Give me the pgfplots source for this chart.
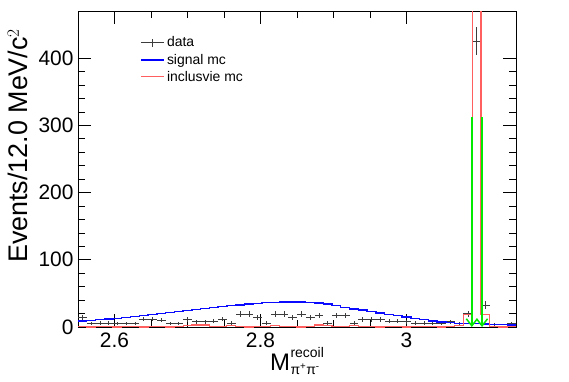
\documentclass[border=0pt]{standalone}
\usepackage{fontspec}
\setmainfont{Liberation Sans}
\usepackage{pgfplots}
\usepackage{pgfplotstable}
\pgfplotsset{compat=1.18}
\usetikzlibrary{arrows.meta}
\definecolor{sigblue}{RGB}{10,10,255}
\definecolor{incred}{RGB}{255,95,95}
\definecolor{arrgreen}{RGB}{0,235,0}
\definecolor{datgray}{RGB}{60,60,60}

\pgfplotstableread{
x y e
2.556 14 3.74
2.568 5 2.24
2.580 6 2.45
2.592 6 2.45
2.604 5 2.24
2.616 5 2.24
2.628 5 2.24
2.640 12 3.46
2.652 12 3.46
2.664 10 3.16
2.676 5 2.24
2.688 5 2.24
2.700 11 3.32
2.712 8 2.83
2.724 8 2.83
2.736 9 3.00
2.748 12 3.46
2.760 6 2.45
2.772 19 4.36
2.784 19 4.36
2.796 14 3.74
2.808 6 2.45
2.820 19 4.36
2.832 19 4.36
2.844 14 3.74
2.856 19 4.36
2.868 14 3.74
2.880 17 4.12
2.892 6 2.45
2.904 17 4.12
2.916 17 4.12
2.928 6 2.45
2.940 11 3.32
2.952 11 3.32
2.964 11 3.32
2.976 9 3.00
2.988 9 3.00
3.000 8 2.83
3.012 6 2.45
3.024 6 2.45
3.036 5 2.24
3.048 5 2.24
3.060 8 2.83
3.072 5 2.24
3.084 20 4.47
3.096 425 20.6
3.108 33 5.74
3.120 4 2.00
3.132 1 1.00
3.144 5 2.24
}\datatab

\pgfplotstableread{
x y
2.550 9
2.562 10
2.574 11
2.586 12
2.598 13
2.610 14
2.622 15.5
2.634 17
2.646 18.5
2.658 20
2.670 21.5
2.682 23
2.694 24.5
2.706 26
2.718 27.5
2.730 29
2.742 30.5
2.754 32
2.766 33
2.778 34
2.790 35
2.802 36
2.814 36.5
2.826 37
2.838 37
2.850 37
2.862 36.5
2.874 35.5
2.886 34
2.898 32
2.910 29
2.922 27
2.934 25
2.946 23
2.958 21
2.970 19
2.982 17
2.994 15
3.006 13
3.018 11
3.030 9
3.042 7.5
3.054 6.5
3.066 5.5
3.078 5
3.090 5
3.102 4.5
3.114 4
3.126 3.5
3.138 3
3.150 3
}\sigtab

\pgfplotstableread{
x y
2.550 1
2.562 0
2.574 1
2.586 1
2.598 0
2.610 1
2.622 1
2.634 0
2.646 1
2.658 1
2.670 0
2.682 1
2.694 2
2.706 3
2.718 3
2.730 1
2.742 1
2.754 2
2.766 1
2.778 0
2.790 1
2.802 1
2.814 2
2.826 1
2.838 1
2.850 0
2.862 1
2.874 3
2.886 2
2.898 1
2.910 1
2.922 2
2.934 1
2.946 1
2.958 0
2.970 1
2.982 1
2.994 0
3.006 1
3.018 1
3.030 1
3.042 0
3.054 1
3.066 2
3.078 19
3.090 2000
3.102 19
3.114 1
3.126 0
3.138 1
3.150 1
}\inctab

\begin{document}
\begin{tikzpicture}
\begin{axis}[
  name=ax, at={(0,0)}, anchor=south west,
  scale only axis, width=438bp, height=316bp,
  xmin=2.55, xmax=3.15, ymin=0, ymax=470,
  xtick={2.6,2.8,3}, xticklabels={2.6,2.8,3},
  minor x tick num=3,
  ytick={0,100,200,300,400}, minor y tick num=4,
  tick align=inside,
  major tick length=13bp, minor tick length=7bp,
  every tick/.style={black, line width=0.6pt},
  axis line style={line width=0.9pt},
  ticklabel style={font=\fontsize{21}{21}\selectfont},
  /pgf/number format/assume math mode=true,
  xticklabel style={yshift=-2bp},
  yticklabel style={xshift=-1bp},
  xlabel={M\kern0.5bp\raisebox{4bp}{\fontsize{14}{17}\selectfont\begin{tabular}[c]{@{}l@{}}recoil\\π\textsuperscript{+}π\textsuperscript{-}\end{tabular}}},
  xlabel style={font=\fontsize{24}{24}\selectfont, at={(axis description cs:0.5,0)}, anchor=base, yshift=-43bp},
  ylabel={Events/12.0 MeV/c$^{2}$},
  ylabel style={font=\fontsize{27}{27}\selectfont, at={(axis description cs:-0.137,0.955)}, anchor=east, rotate=0},
  legend style={draw=none, fill=none, at={(axis description cs:0.1416,0.925)}, anchor=north west,
    font=\fontsize{14}{18}\selectfont, row sep=1.5bp, inner sep=0pt, cells={anchor=west}},
  clip=true,
]
\addplot[draw=none, mark=none,
  legend image code/.code={\draw[datgray, line width=0.6pt] (0bp,0bp)--(23bp,0bp) (11.5bp,-4bp)--(11.5bp,4bp);},
  error bars/.cd, x dir=both, x fixed=0.006, y dir=both, y explicit,
  error mark=none, error bar style={draw=datgray, line width=0.6pt}]
  table[x=x, y=y, y error=e]{\datatab};
\addlegendentry{data}
\addplot[sigblue, line width=1.4pt, const plot mark left,
  legend image code/.code={\draw[blue, line width=1.8pt] (0bp,0bp)--(23bp,0bp);}]
  table[x=x,y=y]{\sigtab};
\addlegendentry{signal mc}
\addplot[incred, line width=1.1pt, const plot mark left,
  legend image code/.code={\draw[incred, line width=1pt] (0bp,0bp)--(23bp,0bp);}]
  table[x=x,y=y]{\inctab};
\addlegendentry{inclusvie mc}
\addplot[arrgreen, line width=1.5pt, -{Straight Barb[length=7bp,width=11bp]}, forget plot] coordinates {(3.0895,312) (3.0895,0)};
\addplot[arrgreen, line width=1.5pt, -{Straight Barb[length=7bp,width=11bp]}, forget plot] coordinates {(3.1035,312) (3.1035,0)};
\end{axis}
\pgfresetboundingbox
\path[use as bounding box] (-78bp,-55bp) rectangle (491bp,327bp);
\end{tikzpicture}
\end{document}
